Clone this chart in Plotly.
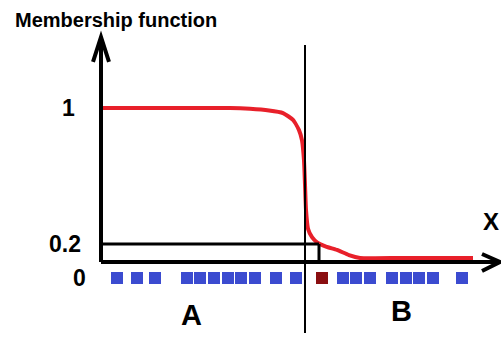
import plotly.graph_objects as go

# --- data -------------------------------------------------------------
# membership curve (x in arbitrary units, y = membership degree)
curve_x = [0.2, 6.0, 12.9, 14.9, 16.8, 18.2, 19.2, 19.8, 20.1, 20.3, 20.4, 20.5, 20.7, 21.1, 21.6, 22.5, 23.6, 24.8, 25.9, 30.0, 37.2]
curve_y = [1.0, 1.0, 1.0, 0.995, 0.985, 0.97, 0.93, 0.87, 0.81, 0.69, 0.55, 0.40, 0.29, 0.24, 0.21, 0.185, 0.165, 0.135, 0.118, 0.118, 0.118]

# elements of class A, the borderline element, elements of class B (all at y = 0)
elems_a_x = [1.6, 3.6, 5.4, 8.6, 9.9, 11.3, 12.7, 14.0, 15.4, 17.5, 19.5]
elem_border_x = [22.1]
elems_b_x = [24.2, 25.5, 26.9, 29.1, 30.5, 31.8, 33.2, 36.1]

# y labels
y_tick_vals = [1, 0.2, 0]
y_tick_text = ["1", "0.2", "0"]

threshold = 0.2
threshold_x = 21.8
divider_x = 20.4
axis_y = 0.094
x_end = 39.9
y_end = 1.418

BLUE = "#3B4BD0"
DARK_RED = "#8A0E10"
RED = "#E8202A"
FONT = "Liberation Sans, Arial, sans-serif"

fig = go.Figure()

fig.add_trace(go.Scatter(
    x=curve_x, y=curve_y, mode="lines",
    line=dict(color=RED, width=4, shape="spline", smoothing=0.5),
    hoverinfo="skip",
))

fig.add_trace(go.Scatter(
    x=elems_a_x + elems_b_x, y=[0] * (len(elems_a_x) + len(elems_b_x)),
    mode="markers",
    marker=dict(symbol="square", size=12, color=BLUE),
    hoverinfo="skip",
))
fig.add_trace(go.Scatter(
    x=elem_border_x, y=[0] * len(elem_border_x),
    mode="markers",
    marker=dict(symbol="square", size=12, color=DARK_RED),
    hoverinfo="skip",
))

shapes = []
# axes
shapes.append(dict(type="line", x0=0, y0=axis_y, x1=0, y1=y_end,
                   line=dict(color="black", width=4)))
shapes.append(dict(type="line", x0=0, y0=axis_y, x1=x_end, y1=axis_y,
                   line=dict(color="black", width=4)))
# arrow heads
shapes.append(dict(type="path",
                   path=f"M -0.8 1.271 L 0 {y_end} L 0.8 1.271",
                   line=dict(color="black", width=4)))
shapes.append(dict(type="path",
                   path=f"M 38.1 0.141 L {x_end} {axis_y} L 38.1 0.041",
                   line=dict(color="black", width=4)))
# threshold box at 0.2
shapes.append(dict(type="line", x0=0, y0=threshold, x1=threshold_x, y1=threshold,
                   line=dict(color="black", width=3)))
shapes.append(dict(type="line", x0=threshold_x, y0=threshold, x1=threshold_x, y1=axis_y,
                   line=dict(color="black", width=3)))
# class divider
shapes.append(dict(type="line", x0=divider_x, y0=1.37, x1=divider_x, y1=-0.324,
                   line=dict(color="black", width=2)))

annotations = [
    dict(x=-8.8, y=1.518, text="<b>Membership function</b>", xanchor="left",
         font=dict(size=20, family=FONT, color="black")),
    dict(x=9.0, y=-0.218, text="<b>A</b>", font=dict(size=29, family=FONT, color="black")),
    dict(x=30.0, y=-0.194, text="<b>B</b>", font=dict(size=29, family=FONT, color="black")),
    dict(x=40.0, y=0.33, text="<b>X</b>", xanchor="right",
         font=dict(size=24, family=FONT, color="black")),
]
label_x = [-3.3, -3.6, -2.2]
for lx, v, t in zip(label_x, y_tick_vals, y_tick_text):
    annotations.append(dict(x=lx, y=v, text=f"<b>{t}</b>",
                            font=dict(size=23, family=FONT, color="black")))
for a in annotations:
    a.update(showarrow=False, xref="x", yref="y", yanchor="middle")

fig.update_layout(
    width=501, height=337,
    margin=dict(l=0, r=0, t=0, b=0),
    paper_bgcolor="white", plot_bgcolor="white",
    showlegend=False,
    xaxis=dict(range=[-10.1, 40.0], visible=False, fixedrange=True),
    yaxis=dict(range=[-0.3471, 1.6353], visible=False, fixedrange=True),
    shapes=shapes,
    annotations=annotations,
)

fig.write_html("out.html")
